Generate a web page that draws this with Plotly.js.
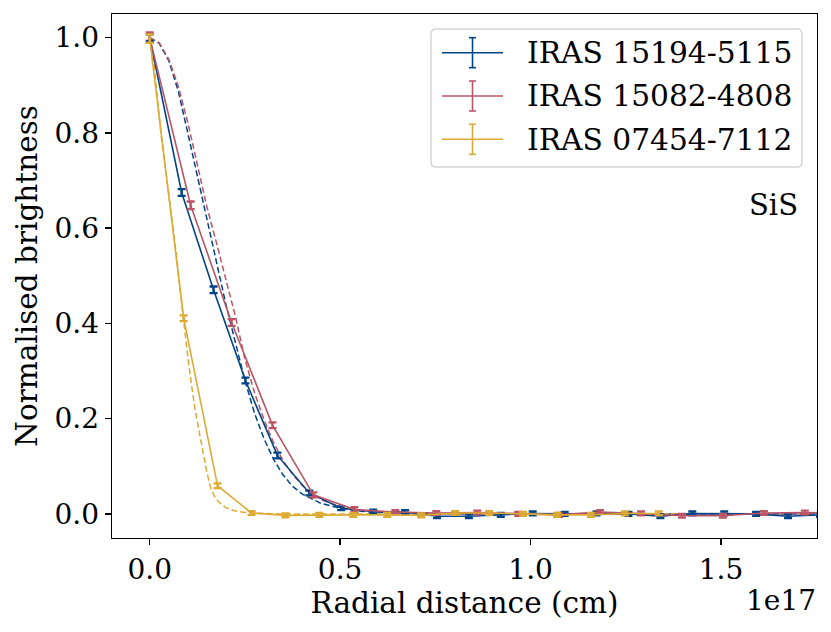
<!DOCTYPE html>
<html>
<head>
<meta charset="utf-8">
<script src="https://cdn.plot.ly/plotly-3.0.1.min.js"></script>
<style>html,body{margin:0;padding:0;background:#fff;} #plot{width:831px;height:632px;}</style>
</head>
<body>
<div id="plot"></div>
<script>
// Radial distance in units of 1e17 cm
const blueX = [0, 0.0838, 0.1676, 0.2514, 0.3352, 0.419, 0.5028, 0.5866, 0.6704, 0.7542, 0.838, 0.9218, 1.0056, 1.0894, 1.1732, 1.257, 1.3408, 1.4246, 1.5084, 1.5922, 1.676, 1.7598];
const blueY = [1.0, 0.675, 0.4705, 0.280, 0.1228, 0.044, 0.012, 0.005, 0.004, -0.005, -0.005, -0.002, 0.001, 0.0, 0.001, 0.0, -0.005, 0.001, 0.001, 0.0, -0.005, -0.002];
const blueErr = [0.007, 0.007, 0.007, 0.006, 0.006, 0.005, 0.004, 0.004, 0.004, 0.004, 0.004, 0.004, 0.004, 0.004, 0.004, 0.004, 0.004, 0.004, 0.004, 0.004, 0.004, 0.004];

const pinkX = [0, 0.1075, 0.215, 0.3225, 0.43, 0.5375, 0.645, 0.7525, 0.86, 0.9675, 1.075, 1.1825, 1.29, 1.3975, 1.505, 1.6125, 1.72, 1.8275];
const pinkY = [1.0, 0.648, 0.402, 0.186, 0.040, 0.009, 0.004, 0.002, 0.003, 0.0, -0.002, 0.004, 0.001, -0.004, -0.004, 0.002, 0.003, 0.001];
const pinkErr = [0.011, 0.008, 0.007, 0.006, 0.005, 0.005, 0.004, 0.004, 0.004, 0.004, 0.004, 0.004, 0.004, 0.004, 0.004, 0.004, 0.004, 0.004];

const yellX = [0, 0.0891, 0.1782, 0.2673, 0.3564, 0.4455, 0.5346, 0.6237, 0.7128, 0.8019, 0.891, 0.9801, 1.0692, 1.1583, 1.2474, 1.3365];
const yellY = [0.998, 0.411, 0.059, 0.002, -0.003, -0.002, -0.002, -0.002, -0.003, 0.002, 0.002, 0.0, -0.002, -0.002, 0.001, 0.001];
const yellErr = [0.009, 0.006, 0.005, 0.004, 0.004, 0.004, 0.004, 0.004, 0.004, 0.004, 0.004, 0.004, 0.004, 0.004, 0.004, 0.004];

// Model (dashed) profiles
const blueModX = [0, 0.025, 0.05, 0.075, 0.1, 0.125, 0.15, 0.175, 0.2, 0.225, 0.25, 0.275, 0.3, 0.325, 0.35, 0.375, 0.4, 0.45, 0.5, 0.55, 0.6, 0.7, 0.8, 1.0, 1.4, 1.8];
const blueModY = [1.0, 0.988, 0.952, 0.888, 0.80, 0.71, 0.62, 0.53, 0.44, 0.36, 0.28, 0.212, 0.158, 0.115, 0.082, 0.058, 0.042, 0.022, 0.012, 0.006, 0.003, 0.001, 0.0, 0.0, 0.0, 0.0];

const pinkModX = [0, 0.025, 0.05, 0.075, 0.1, 0.125, 0.15, 0.175, 0.2, 0.225, 0.25, 0.275, 0.3, 0.325, 0.35, 0.375, 0.4, 0.45, 0.5, 0.55, 0.6, 0.7, 0.8, 1.0, 1.4, 1.8];
const pinkModY = [1.0, 0.989, 0.955, 0.898, 0.822, 0.735, 0.645, 0.57, 0.49, 0.415, 0.325, 0.255, 0.198, 0.15, 0.112, 0.083, 0.06, 0.03, 0.015, 0.008, 0.004, 0.001, 0.0, 0.0, 0.0, 0.0];

const yellModX = [0, 0.01, 0.02, 0.03, 0.04, 0.05, 0.06, 0.07, 0.08, 0.09, 0.1, 0.11, 0.12, 0.13, 0.14, 0.15, 0.16, 0.17, 0.18, 0.2, 0.22, 0.25, 0.3, 0.35, 0.6, 1.0, 1.4];
const yellModY = [1.0, 0.955, 0.875, 0.795, 0.735, 0.675, 0.615, 0.545, 0.47, 0.395, 0.33, 0.27, 0.215, 0.172, 0.128, 0.088, 0.055, 0.037, 0.026, 0.013, 0.007, 0.003, 0.001, 0.0, 0.0, 0.0, 0.0];

const seriesNames = ['IRAS 15194-5115', 'IRAS 15082-4808', 'IRAS 07454-7112'];
const seriesColors = ['#004488', '#BB5566', '#DDAA33'];
const xTickVals = [0, 0.5, 1.0, 1.5];
const xTickText = ['0.0', '0.5', '1.0', '1.5'];
const yTickVals = [0, 0.2, 0.4, 0.6, 0.8, 1.0];
const yTickText = ['0.0', '0.2', '0.4', '0.6', '0.8', '1.0'];

const FONT = 'DejaVu Serif, serif';
const W = 831, H = 632;
const M = {l: 112, r: 14, t: 14, b: 94};
const PW = W - M.l - M.r, PH = H - M.t - M.b;
const px = x => (x - M.l) / PW;
const py = y => (H - M.b - y) / PH;

const obs = [[blueX, blueY, blueErr], [pinkX, pinkY, pinkErr], [yellX, yellY, yellErr]];
const mods = [[blueModX, blueModY], [pinkModX, pinkModY], [yellModX, yellModY]];

const traces = [];
mods.forEach((m, i) => {
  traces.push({x: m[0], y: m[1], mode: 'lines', type: 'scatter', showlegend: false, hoverinfo: 'skip',
    line: {color: seriesColors[i], width: 1.5, dash: '6px,3px'}});
});
obs.forEach((o, i) => {
  traces.push({x: o[0], y: o[1], mode: 'lines', type: 'scatter', name: seriesNames[i], showlegend: false,
    line: {color: seriesColors[i], width: 1.6},
    error_y: {type: 'data', array: o[2], visible: true, color: seriesColors[i], thickness: 2.3, width: 4}});
});

// custom legend (matplotlib errorbar style)
const shapes = [];
const annotations = [];
const bx0 = 431, bx1 = 802, by0 = 29, by1 = 167, r = 5;
const rx = r / PW, ry = r / PH;
const X0 = px(bx0), X1 = px(bx1), Y0 = py(by0), Y1 = py(by1);
shapes.push({type: 'path', xref: 'paper', yref: 'paper',
  path: `M ${X0 + rx},${Y0} L ${X1 - rx},${Y0} Q ${X1},${Y0} ${X1},${Y0 - ry} L ${X1},${Y1 + ry} Q ${X1},${Y1} ${X1 - rx},${Y1} L ${X0 + rx},${Y1} Q ${X0},${Y1} ${X0},${Y1 + ry} L ${X0},${Y0 - ry} Q ${X0},${Y0} ${X0 + rx},${Y0} Z`,
  line: {color: '#d6d6d6', width: 1.5}, fillcolor: 'rgba(255,255,255,0.8)', layer: 'above'});
const rowY = [52.7, 96, 139.3];
rowY.forEach((yy, i) => {
  const c = seriesColors[i];
  shapes.push({type: 'line', xref: 'paper', yref: 'paper', x0: px(442), x1: px(503), y0: py(yy), y1: py(yy), line: {color: c, width: 1.6}, layer: 'above'});
  shapes.push({type: 'line', xref: 'paper', yref: 'paper', x0: px(472.5), x1: px(472.5), y0: py(yy - 15), y1: py(yy + 15), line: {color: c, width: 1.6}, layer: 'above'});
  shapes.push({type: 'line', xref: 'paper', yref: 'paper', x0: px(469), x1: px(476), y0: py(yy - 15), y1: py(yy - 15), line: {color: c, width: 1.6}, layer: 'above'});
  shapes.push({type: 'line', xref: 'paper', yref: 'paper', x0: px(469), x1: px(476), y0: py(yy + 15), y1: py(yy + 15), line: {color: c, width: 1.6}, layer: 'above'});
  annotations.push({xref: 'paper', yref: 'paper', x: px(526), y: py(yy), xanchor: 'left', yanchor: 'middle',
    text: seriesNames[i], showarrow: false, borderpad: 0, font: {family: FONT, size: 29.7, color: '#000'}});
});
annotations.push({xref: 'paper', yref: 'paper', x: px(799), y: py(205), xanchor: 'right', yanchor: 'middle',
  text: 'SiS', showarrow: false, borderpad: 0, font: {family: FONT, size: 29, color: '#000'}});
annotations.push({xref: 'paper', yref: 'paper', x: px(817), y: py(600), xanchor: 'right', yanchor: 'middle',
  text: '1e17', showarrow: false, borderpad: 0, font: {family: FONT, size: 28, color: '#000'}});

const layout = {
  width: W, height: H,
  margin: M,
  paper_bgcolor: '#fff', plot_bgcolor: '#fff',
  font: {family: FONT, size: 28, color: '#000'},
  showlegend: false,
  xaxis: {range: [-0.099, 1.752], tickmode: 'array', tickvals: xTickVals, ticktext: xTickText,
    showgrid: false, zeroline: false, showline: true, mirror: true, linecolor: '#000', linewidth: 1.4,
    ticks: 'outside', ticklen: 6, tickwidth: 1.4, tickcolor: '#000',
    tickfont: {family: FONT, size: 28},
    title: {text: 'Radial distance (cm)', font: {family: FONT, size: 29.5}, standoff: 5},
    automargin: false},
  yaxis: {range: [-0.0506, 1.0497], tickmode: 'array', tickvals: yTickVals, ticktext: yTickText,
    showgrid: false, zeroline: false, showline: true, mirror: true, linecolor: '#000', linewidth: 1.4,
    ticks: 'outside', ticklen: 6, tickwidth: 1.4, tickcolor: '#000',
    tickfont: {family: FONT, size: 28},
    title: {text: 'Normalised brightness', font: {family: FONT, size: 29.5}, standoff: 8},
    automargin: false},
  shapes: shapes,
  annotations: annotations
};

Plotly.newPlot('plot', traces, layout, {staticPlot: true, displayModeBar: false});
</script>
</body>
</html>
